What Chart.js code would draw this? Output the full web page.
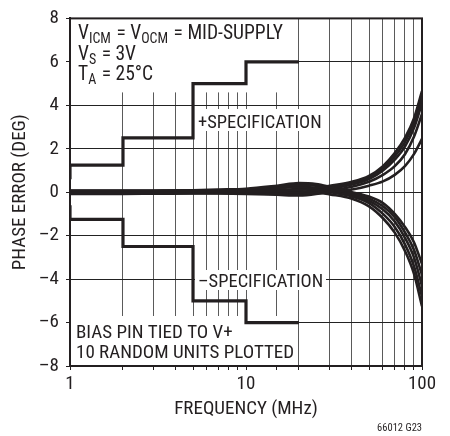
<!DOCTYPE html>
<html><head><meta charset="utf-8">
<script src="https://cdn.jsdelivr.net/npm/chart.js@4.4.1/dist/chart.umd.min.js"></script>
<style>html,body{margin:0;padding:0;background:#fff;overflow:hidden}</style>
</head><body>
<canvas id="c" width="450" height="436"></canvas>
<script>
// ---- data ----
const freqs = [1,2,3,5,7,10,15,20,25,30,40,50,60,70,80,90,100];
const unit1 = [0.08,0.08,0.08,0.07,0.06,0.05,0.05,0.1,0.2,0.3,0.48,0.75,1.2,1.8,2.5,3.4,4.65];
const unit2 = [0.04,0.04,0.04,0.03,0.02,0.0,-0.02,0.0,0.1,0.22,0.42,0.68,1.1,1.65,2.3,3.2,4.4];
const unit3 = [0.0,0.0,0.0,-0.01,-0.02,-0.04,-0.08,-0.08,0.0,0.15,0.35,0.6,1.0,1.5,2.1,2.95,4.1];
const unit4 = [-0.04,-0.04,-0.04,-0.05,-0.06,-0.08,-0.12,-0.15,-0.08,0.05,0.25,0.48,0.8,1.2,1.75,2.55,3.6];
const unit5 = [0.02,0.02,0.02,0.02,0.02,0.02,0.0,-0.05,-0.05,0.0,0.12,0.3,0.5,0.8,1.2,1.75,2.45];
const unit6 = [0.06,0.06,0.07,0.09,0.12,0.16,0.3,0.42,0.38,0.25,0.0,-0.2,-0.5,-1.0,-1.6,-2.3,-3.3];
const unit7 = [0.03,0.03,0.04,0.06,0.08,0.12,0.24,0.33,0.3,0.18,-0.06,-0.3,-0.65,-1.15,-1.85,-2.65,-3.8];
const unit8 = [-0.01,0.0,0.01,0.03,0.05,0.08,0.17,0.25,0.2,0.1,-0.12,-0.4,-0.8,-1.35,-2.1,-3.0,-4.3];
const unit9 = [-0.04,-0.04,-0.03,-0.01,0.01,0.04,0.1,0.15,0.1,0.0,-0.2,-0.5,-1.0,-1.6,-2.4,-3.4,-4.8];
const unit10 = [-0.08,-0.08,-0.07,-0.06,-0.05,-0.03,0.0,0.03,0.0,-0.1,-0.3,-0.65,-1.2,-1.86,-2.7,-3.75,-5.25];
const units = [unit1,unit2,unit3,unit4,unit5,unit6,unit7,unit8,unit9,unit10];

const specFreqs = [1,1,2,2,5,5,10,10,20];
const specPlus  = [0.6,1.25,1.25,2.5,2.5,5,5,6,6];
const specMinus = [-0.6,-1.25,-1.25,-2.5,-2.5,-5,-5,-6,-6];

const yTickValues = [-8,-6,-4,-2,0,2,4,6,8];
const yTickLabels = ['\u20138','\u20136','\u20134','\u20132','0','2','4','6','8'];
const xTickValues = [1,10,100];
const xTickLabels = ['1','10','100'];

const xTitle = 'FREQUENCY (MHz)';
const yTitle = 'PHASE ERROR (DEG)';
const noteTop = [
  [['V',0],['ICM',1],[' = V',0],['OCM',1],[' = MID-SUPPLY',0]],
  [['V',0],['S',1],[' = 3V',0]],
  [['T',0],['A',1],[' = 25\u00B0C',0]]
];
const notePlus = '+SPECIFICATION';
const noteMinus = '\u2013SPECIFICATION';
const noteBottom = ['BIAS PIN TIED TO V+','10 RANDOM UNITS PLOTTED'];
const figId = '66012 G23';

// ---- style ----
const FAM = "'Liberation Sans Narrow','Arial Narrow','Roboto Condensed',sans-serif";
const INK = '#231f20';

function pts(xs, ys){ return xs.map((x,i)=>({x:x,y:ys[i]})); }

const datasets = [];
units.forEach(u => datasets.push({
  data: pts(freqs,u), showLine:true, pointRadius:0, borderColor:INK, borderWidth:2.6,
  cubicInterpolationMode:'monotone', fill:false
}));
datasets.push({data:pts(specFreqs,specPlus), showLine:true, pointRadius:0, borderColor:INK, borderWidth:3.2, tension:0});
datasets.push({data:pts(specFreqs,specMinus), showLine:true, pointRadius:0, borderColor:INK, borderWidth:3.2, tension:0});

function drawRuns(ctx, x, y, runs, size, subSize){
  runs.forEach(([t,sub]) => {
    ctx.font = (sub?subSize:size) + 'px ' + FAM;
    ctx.fillText(t, x, y + (sub?4:0));
    x += ctx.measureText(t).width + (sub?1:0);
  });
}

const annot = {
  id:'annot',
  beforeDatasetsDraw(chart){
    const {ctx, chartArea:a} = chart;
    ctx.save();
    ctx.fillStyle = '#fff';
    ctx.fillRect(a.left, a.top, 226, 74);
    ctx.fillRect(195, 109, 131, 22);
    ctx.fillRect(195, 270, 131, 20);
    ctx.fillRect(a.left, 316, 226, a.bottom-316);
    ctx.strokeStyle = INK; ctx.lineWidth = 2;
    ctx.strokeRect(a.left, a.top, a.right-a.left, a.bottom-a.top);
    ctx.fillStyle = INK;
    ctx.textBaseline = 'alphabetic';
    ctx.textAlign = 'left';
    noteTop.forEach((runs,i) => drawRuns(ctx, 78, 39 + i*20.5, runs, 19.5, 14));
    ctx.font = '18.5px ' + FAM;
    ctx.fillText(notePlus, 198, 128);
    ctx.fillText(noteMinus, 198, 287);
    ctx.font = '19px ' + FAM;
    ctx.fillText(noteBottom[0], 76, 338);
    ctx.fillText(noteBottom[1], 76, 358);
    ctx.restore();
  },
  afterDraw(chart){
    const {ctx} = chart;
    ctx.save();
    ctx.fillStyle = INK;
    ctx.font = '10.5px ' + FAM;
    ctx.textAlign = 'right';
    ctx.fillText(figId, 422, 431);
    ctx.restore();
  }
};

new Chart(document.getElementById('c'), {
  type:'scatter',
  data:{datasets},
  plugins:[annot],
  options:{
    responsive:false, animation:false, devicePixelRatio:1,
    layout:{padding:{top:14,right:28,left:0,bottom:0}},
    plugins:{legend:{display:false}, tooltip:{enabled:false}},
    scales:{
      x:{
        type:'logarithmic', min:1, max:100, position:'bottom',
        grid:{color:'#5a5a5a', lineWidth:1, tickLength:4, tickColor:INK},
        border:{display:true, color:INK, width:2},
        ticks:{autoSkip:false, maxRotation:0, minRotation:0, padding:3, color:INK,
          font:{family:FAM, size:19},
          callback:(v)=>{ const i = xTickValues.findIndex(t=>Math.abs(t-v)<1e-6); return i>=0 ? xTickLabels[i] : ''; }},
        title:{display:true, text:xTitle, color:INK, font:{family:FAM, size:19}, padding:{top:0,bottom:15}},
        afterFit:(s)=>{ s.height = 70; }
      },
      y:{
        type:'linear', min:-8, max:8,
        grid:{color:'#222', lineWidth:1, tickLength:4, tickColor:INK},
        border:{display:true, color:INK, width:2},
        ticks:{stepSize:2, padding:7, color:INK, font:{family:FAM, size:19},
          callback:(v)=>{ const i = yTickValues.indexOf(v); return i>=0 ? yTickLabels[i] : ''; }},
        title:{display:true, text:yTitle, color:INK, font:{family:FAM, size:19}, padding:{top:9,bottom:0}},
        afterFit:(s)=>{ s.width = 70; }
      }
    }
  }
});
</script>
</body></html>
